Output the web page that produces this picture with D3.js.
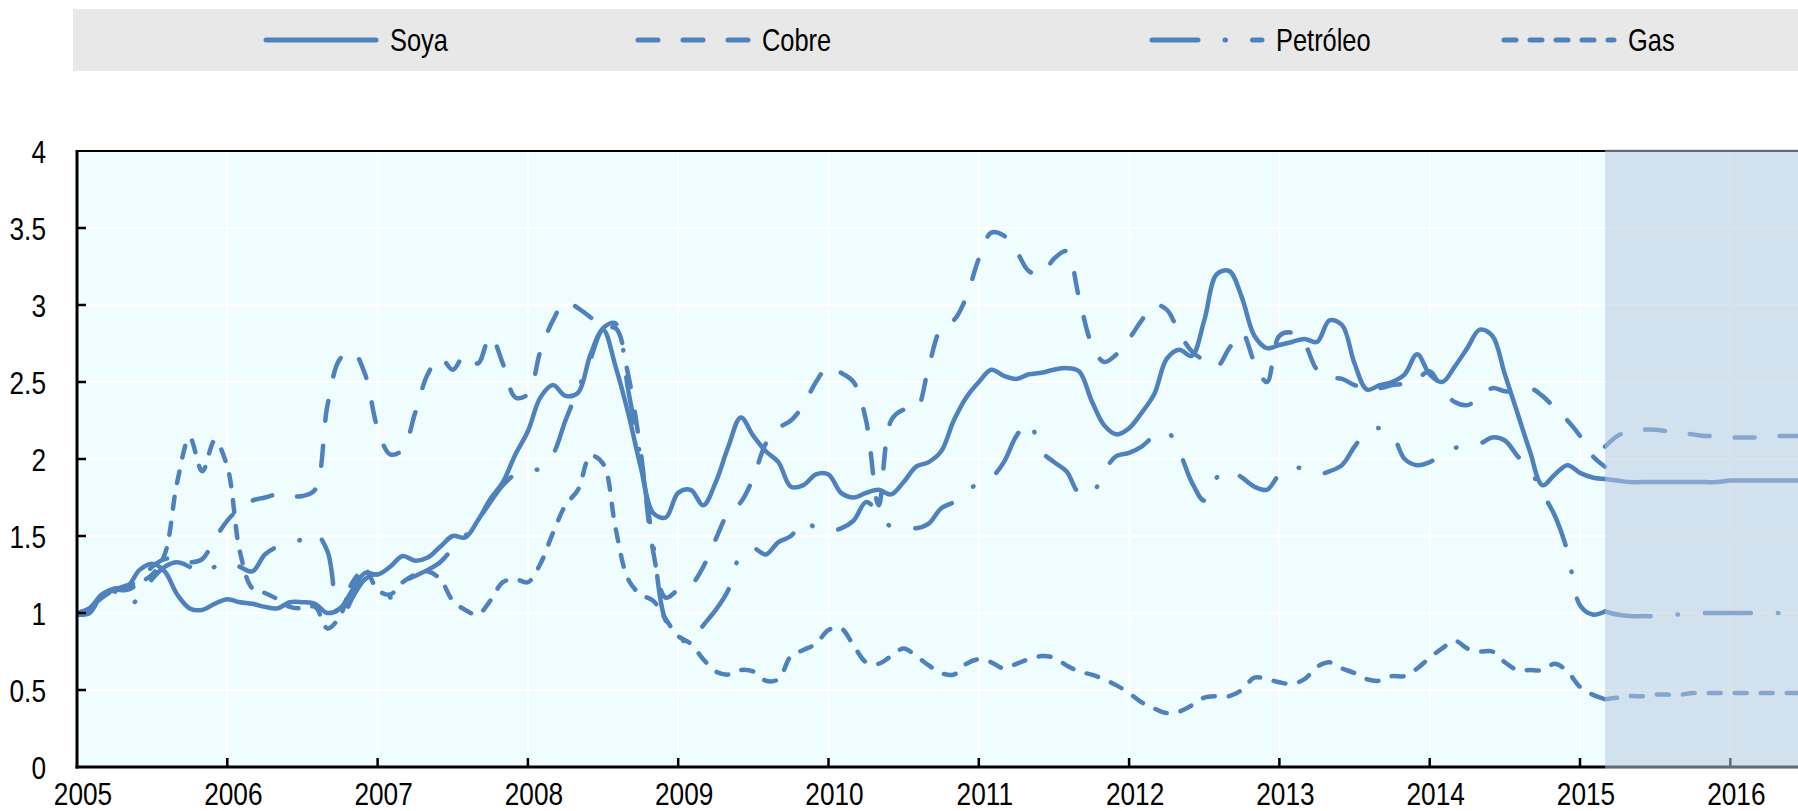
<!DOCTYPE html>
<html>
<head>
<meta charset="utf-8">
<script src="https://d3js.org/d3.v7.min.js"></script>
<style>
	body { margin: 0; background: white; }
	text { font-family: "Liberation Sans", Arial, sans-serif; fill: black; }
</style>
</head>
<body>
<svg width="1798" height="811"></svg>
<script>
// tick labels
var years = [2005, 2006, 2007, 2008, 2009, 2010, 2011, 2012, 2013, 2014, 2015, 2016];
var yTicks = [0, 0.5, 1, 1.5, 2, 2.5, 3, 3.5, 4];
var names = ["Soya", "Cobre", "Petróleo", "Gas"];

// monthly index, Jan 2005 .. Mar 2015
var soya = [
	0.99, 1.00, 1.12, 1.16, 1.17, 1.28, 1.32, 1.27, 1.12, 1.03, 1.02, 1.06,
	1.09, 1.07, 1.06, 1.04, 1.03, 1.07, 1.07, 1.06, 1.00, 1.03, 1.15, 1.26,
	1.25, 1.30, 1.37, 1.34, 1.36, 1.43, 1.50, 1.49, 1.60, 1.74, 1.85, 2.03,
	2.18, 2.40, 2.48, 2.41, 2.43, 2.68, 2.84, 2.60, 2.30, 1.95, 1.65, 1.62,
	1.78, 1.80, 1.70, 1.85, 2.08, 2.27, 2.15, 2.05, 1.98, 1.82, 1.83, 1.90,
	1.90, 1.78, 1.75, 1.78, 1.80, 1.77, 1.85, 1.95, 1.98, 2.05, 2.25, 2.40,
	2.50, 2.58, 2.54, 2.52, 2.55, 2.56, 2.58, 2.59, 2.57, 2.38, 2.22, 2.16,
	2.20, 2.30, 2.42, 2.65, 2.71, 2.67, 2.90, 3.20, 3.22, 3.05, 2.80, 2.72,
	2.74, 2.76, 2.78, 2.76, 2.90, 2.87, 2.62, 2.45, 2.48, 2.50, 2.55, 2.68,
	2.55, 2.50, 2.60, 2.72, 2.84, 2.80, 2.55, 2.30, 2.05, 1.83, 1.90, 1.96,
	1.91, 1.88, 1.87];
var cobre = [
	1.00, 1.03, 1.12, 1.15, 1.15, 1.20, 1.30, 1.35, 1.35, 1.33, 1.35, 1.48,
	1.60, 1.68, 1.73, 1.75, 1.77, 1.76, 1.76, 1.80, 2.35, 2.65, 2.70, 2.55,
	2.20, 2.03, 2.06, 2.30, 2.55, 2.66, 2.58, 2.68, 2.62, 2.80, 2.62, 2.40,
	2.42, 2.70, 2.90, 3.02, 2.98, 2.92, 2.85, 2.85, 2.55, 2.05, 1.40, 1.10,
	1.15, 1.18, 1.30, 1.48, 1.65, 1.72, 1.88, 2.10, 2.20, 2.25, 2.35, 2.50,
	2.60, 2.56, 2.50, 2.25, 1.70, 2.25, 2.32, 2.32, 2.60, 2.85, 2.90, 3.05,
	3.30, 3.47, 3.45, 3.35, 3.22, 3.20, 3.30, 3.35, 3.05, 2.75, 2.63, 2.68,
	2.78, 2.90, 3.00, 2.97, 2.82, 2.70, 2.64, 2.60, 2.72, 2.82, 2.63, 2.50,
	2.80, 2.82, 2.75, 2.58, 2.53, 2.52, 2.48, 2.46, 2.46, 2.48, 2.49, 2.52,
	2.57, 2.45, 2.37, 2.35, 2.40, 2.46, 2.44, 2.44, 2.46, 2.41, 2.33, 2.25,
	2.15, 2.02, 1.95];
var petroleo = [
	1.00, 1.03, 1.12, 1.14, 1.05, 1.10, 1.22, 1.30, 1.33, 1.30, 1.26, 1.30,
	1.33, 1.30, 1.27, 1.38, 1.43, 1.45, 1.48, 1.52, 1.40, 0.95, 1.10, 1.22,
	1.25, 1.10, 1.20, 1.24, 1.28, 1.33, 1.42, 1.50, 1.60, 1.72, 1.83, 1.90,
	1.92, 1.94, 2.03, 2.25, 2.45, 2.65, 2.85, 2.88, 2.45, 2.00, 1.45, 0.95,
	0.84, 0.81, 0.92, 1.02, 1.15, 1.38, 1.42, 1.38, 1.46, 1.50, 1.60, 1.55,
	1.53, 1.55, 1.60, 1.72, 1.65, 1.56, 1.56, 1.55, 1.58, 1.68, 1.72, 1.78,
	1.85, 1.88, 1.98, 2.15, 2.24, 2.05, 1.98, 1.92, 1.78, 1.77, 1.92, 2.02,
	2.04, 2.08, 2.15, 2.18, 2.05, 1.85, 1.73, 1.88, 1.93, 1.88, 1.82, 1.80,
	1.90, 1.95, 1.93, 1.90, 1.92, 1.96, 2.08, 2.18, 2.20, 2.16, 2.00, 1.96,
	1.98, 2.03, 2.07, 2.10, 2.10, 2.14, 2.12, 2.02, 1.93, 1.78, 1.63, 1.40,
	1.05, 0.99, 1.01];
var gas = [
	1.00, 1.03, 1.10, 1.15, 1.18, 1.20, 1.25, 1.38, 1.85, 2.14, 1.92, 2.12,
	1.95, 1.40, 1.16, 1.13, 1.09, 1.04, 1.03, 1.04, 0.90, 0.98, 1.20, 1.28,
	1.15, 1.12, 1.20, 1.25, 1.27, 1.22, 1.08, 1.02, 0.99, 1.08, 1.20, 1.22,
	1.20, 1.32, 1.52, 1.70, 1.80, 2.02, 1.97, 1.55, 1.22, 1.12, 1.08, 0.96,
	0.85, 0.80, 0.70, 0.62, 0.60, 0.63, 0.62, 0.56, 0.57, 0.72, 0.76, 0.80,
	0.89, 0.90, 0.79, 0.68, 0.67, 0.72, 0.77, 0.72, 0.66, 0.61, 0.60, 0.67,
	0.70, 0.68, 0.64, 0.67, 0.70, 0.72, 0.71, 0.66, 0.62, 0.60, 0.57, 0.53,
	0.48, 0.42, 0.38, 0.35, 0.36, 0.40, 0.45, 0.46, 0.46, 0.50, 0.58, 0.57,
	0.55, 0.54, 0.57, 0.65, 0.68, 0.64, 0.61, 0.57, 0.56, 0.59, 0.59, 0.64,
	0.71, 0.77, 0.82, 0.77, 0.75, 0.75, 0.68, 0.63, 0.63, 0.63, 0.67, 0.62,
	0.52, 0.47, 0.44];

// projections, Mar 2015 onwards
var soyaProj = [1.87, 1.86, 1.85, 1.85, 1.85, 1.85, 1.85, 1.85, 1.85, 1.85, 1.86, 1.86, 1.86, 1.86, 1.86, 1.86, 1.86];
var cobreProj = [2.08, 2.15, 2.18, 2.19, 2.19, 2.18, 2.17, 2.16, 2.15, 2.15, 2.14, 2.14, 2.14, 2.15, 2.15, 2.15, 2.15];
var petroleoProj = [1.01, 0.99, 0.98, 0.98, 0.98, 0.99, 0.99, 0.99, 1.00, 1.00, 1.00, 1.00, 1.00, 1.00, 1.00, 1.00, 1.00];
var gasProj = [0.44, 0.45, 0.46, 0.46, 0.47, 0.47, 0.47, 0.48, 0.48, 0.48, 0.48, 0.48, 0.48, 0.48, 0.48, 0.48, 0.48];

var projStart = 2015 + 2 / 12;

var dashes = ["none", "20,25", "46,27,0.5,27", "12,14"];
var blue = "#4f81bd";

var svg = d3.select("svg");
var pLeft = 77, pTop = 151, pRight = 1798, pBottom = 767;

var x = d3.scaleLinear().domain([2005, 2005 + (pRight - pLeft) / 150.3]).range([pLeft, pRight]);
var y = d3.scaleLinear().domain([0, 4]).range([pBottom, pTop]);

// narrow-looking text: regular font squeezed horizontally
function label(g, tx, ty, size, anchor, str) {
	return g.append("text")
		.attr("transform", "translate(" + tx + "," + ty + ") scale(0.82,1)")
		.attr("text-anchor", anchor).attr("font-size", size + "px").text(str);
}

// legend
svg.append("rect").attr("x", 73).attr("y", 9).attr("width", 1725).attr("height", 62).attr("fill", "#e8e8e8");
var legX = [266, 638, 1152, 1504];
names.forEach(function(n, i) {
	svg.append("line")
		.attr("x1", legX[i]).attr("x2", legX[i] + 110).attr("y1", 40).attr("y2", 40)
		.attr("stroke", blue).attr("stroke-width", 5).attr("stroke-linecap", "round")
		.attr("stroke-dasharray", dashes[i]);
	label(svg, legX[i] + 124, 51, 31, "start", n);
});

// plot background + grid
svg.append("rect").attr("x", pLeft).attr("y", pTop).attr("width", pRight - pLeft).attr("height", pBottom - pTop).attr("fill", "#effdfe");
svg.append("g").selectAll("line").data(yTicks.slice(1, -1)).enter().append("line")
	.attr("x1", pLeft).attr("x2", pRight).attr("y1", d => y(d)).attr("y2", d => y(d))
	.attr("stroke", "white").attr("stroke-width", 2);
svg.append("g").selectAll("line").data(years.slice(1)).enter().append("line")
	.attr("x1", d => x(d)).attr("x2", d => x(d)).attr("y1", pTop).attr("y2", pBottom)
	.attr("stroke", "white").attr("stroke-width", 2);

svg.append("clipPath").attr("id", "clip").append("rect")
	.attr("x", pLeft).attr("y", pTop - 5).attr("width", pRight - pLeft).attr("height", pBottom - pTop + 5);

var line = d3.line().curve(d3.curveCatmullRom.alpha(0.5))
	.x(d => x(d[0])).y(d => y(d[1]));

var hist = [soya, cobre, petroleo, gas];
var proj = [soyaProj, cobreProj, petroleoProj, gasProj];
var lines = svg.append("g").attr("clip-path", "url(#clip)");
hist.forEach(function(s, i) {
	lines.append("path")
		.datum(s.map((v, k) => [2005 + k / 12, v]))
		.attr("d", line).attr("fill", "none").attr("stroke", blue).attr("stroke-width", 4.5)
		.attr("stroke-linecap", "round").attr("stroke-linejoin", "round")
		.attr("stroke-dasharray", dashes[i]);
});
proj.forEach(function(s, i) {
	lines.append("path")
		.datum(s.map((v, k) => [projStart + k / 12, v]))
		.attr("d", line).attr("fill", "none").attr("stroke", blue).attr("stroke-width", 4.5)
		.attr("stroke-linecap", "round").attr("stroke-linejoin", "round")
		.attr("stroke-dasharray", dashes[i]);
});

// frame and axes
svg.append("line").attr("x1", pLeft).attr("x2", pRight).attr("y1", pTop).attr("y2", pTop).attr("stroke", "black").attr("stroke-width", 2);
svg.append("line").attr("x1", pLeft).attr("x2", pLeft).attr("y1", pTop - 1).attr("y2", pBottom + 1.5).attr("stroke", "black").attr("stroke-width", 3);
svg.append("line").attr("x1", pLeft - 1.5).attr("x2", pRight).attr("y1", pBottom).attr("y2", pBottom).attr("stroke", "black").attr("stroke-width", 3);

svg.append("g").selectAll("line").data(yTicks.slice(1, -1)).enter().append("line")
	.attr("x1", pLeft).attr("x2", pLeft + 9).attr("y1", d => y(d)).attr("y2", d => y(d))
	.attr("stroke", "black").attr("stroke-width", 2.5);
svg.append("g").selectAll("line").data(years.slice(1)).enter().append("line")
	.attr("x1", d => x(d)).attr("x2", d => x(d)).attr("y1", pBottom).attr("y2", pBottom - 9)
	.attr("stroke", "black").attr("stroke-width", 2.5);

// projection shading, drawn over the lines
svg.append("rect").attr("x", x(projStart)).attr("y", pTop - 2).attr("width", pRight - x(projStart)).attr("height", pBottom - pTop + 4)
	.attr("fill", "rgb(185,201,223)").attr("fill-opacity", 0.53);

// tick labels
var yl = svg.append("g");
yTicks.forEach(function(t) { label(yl, 46, y(t) + 11.5, 32, "end", t); });
var xl = svg.append("g");
years.forEach(function(t) { label(xl, x(t) + 6, 805, 32, "middle", t); });
</script>
</body>
</html>
